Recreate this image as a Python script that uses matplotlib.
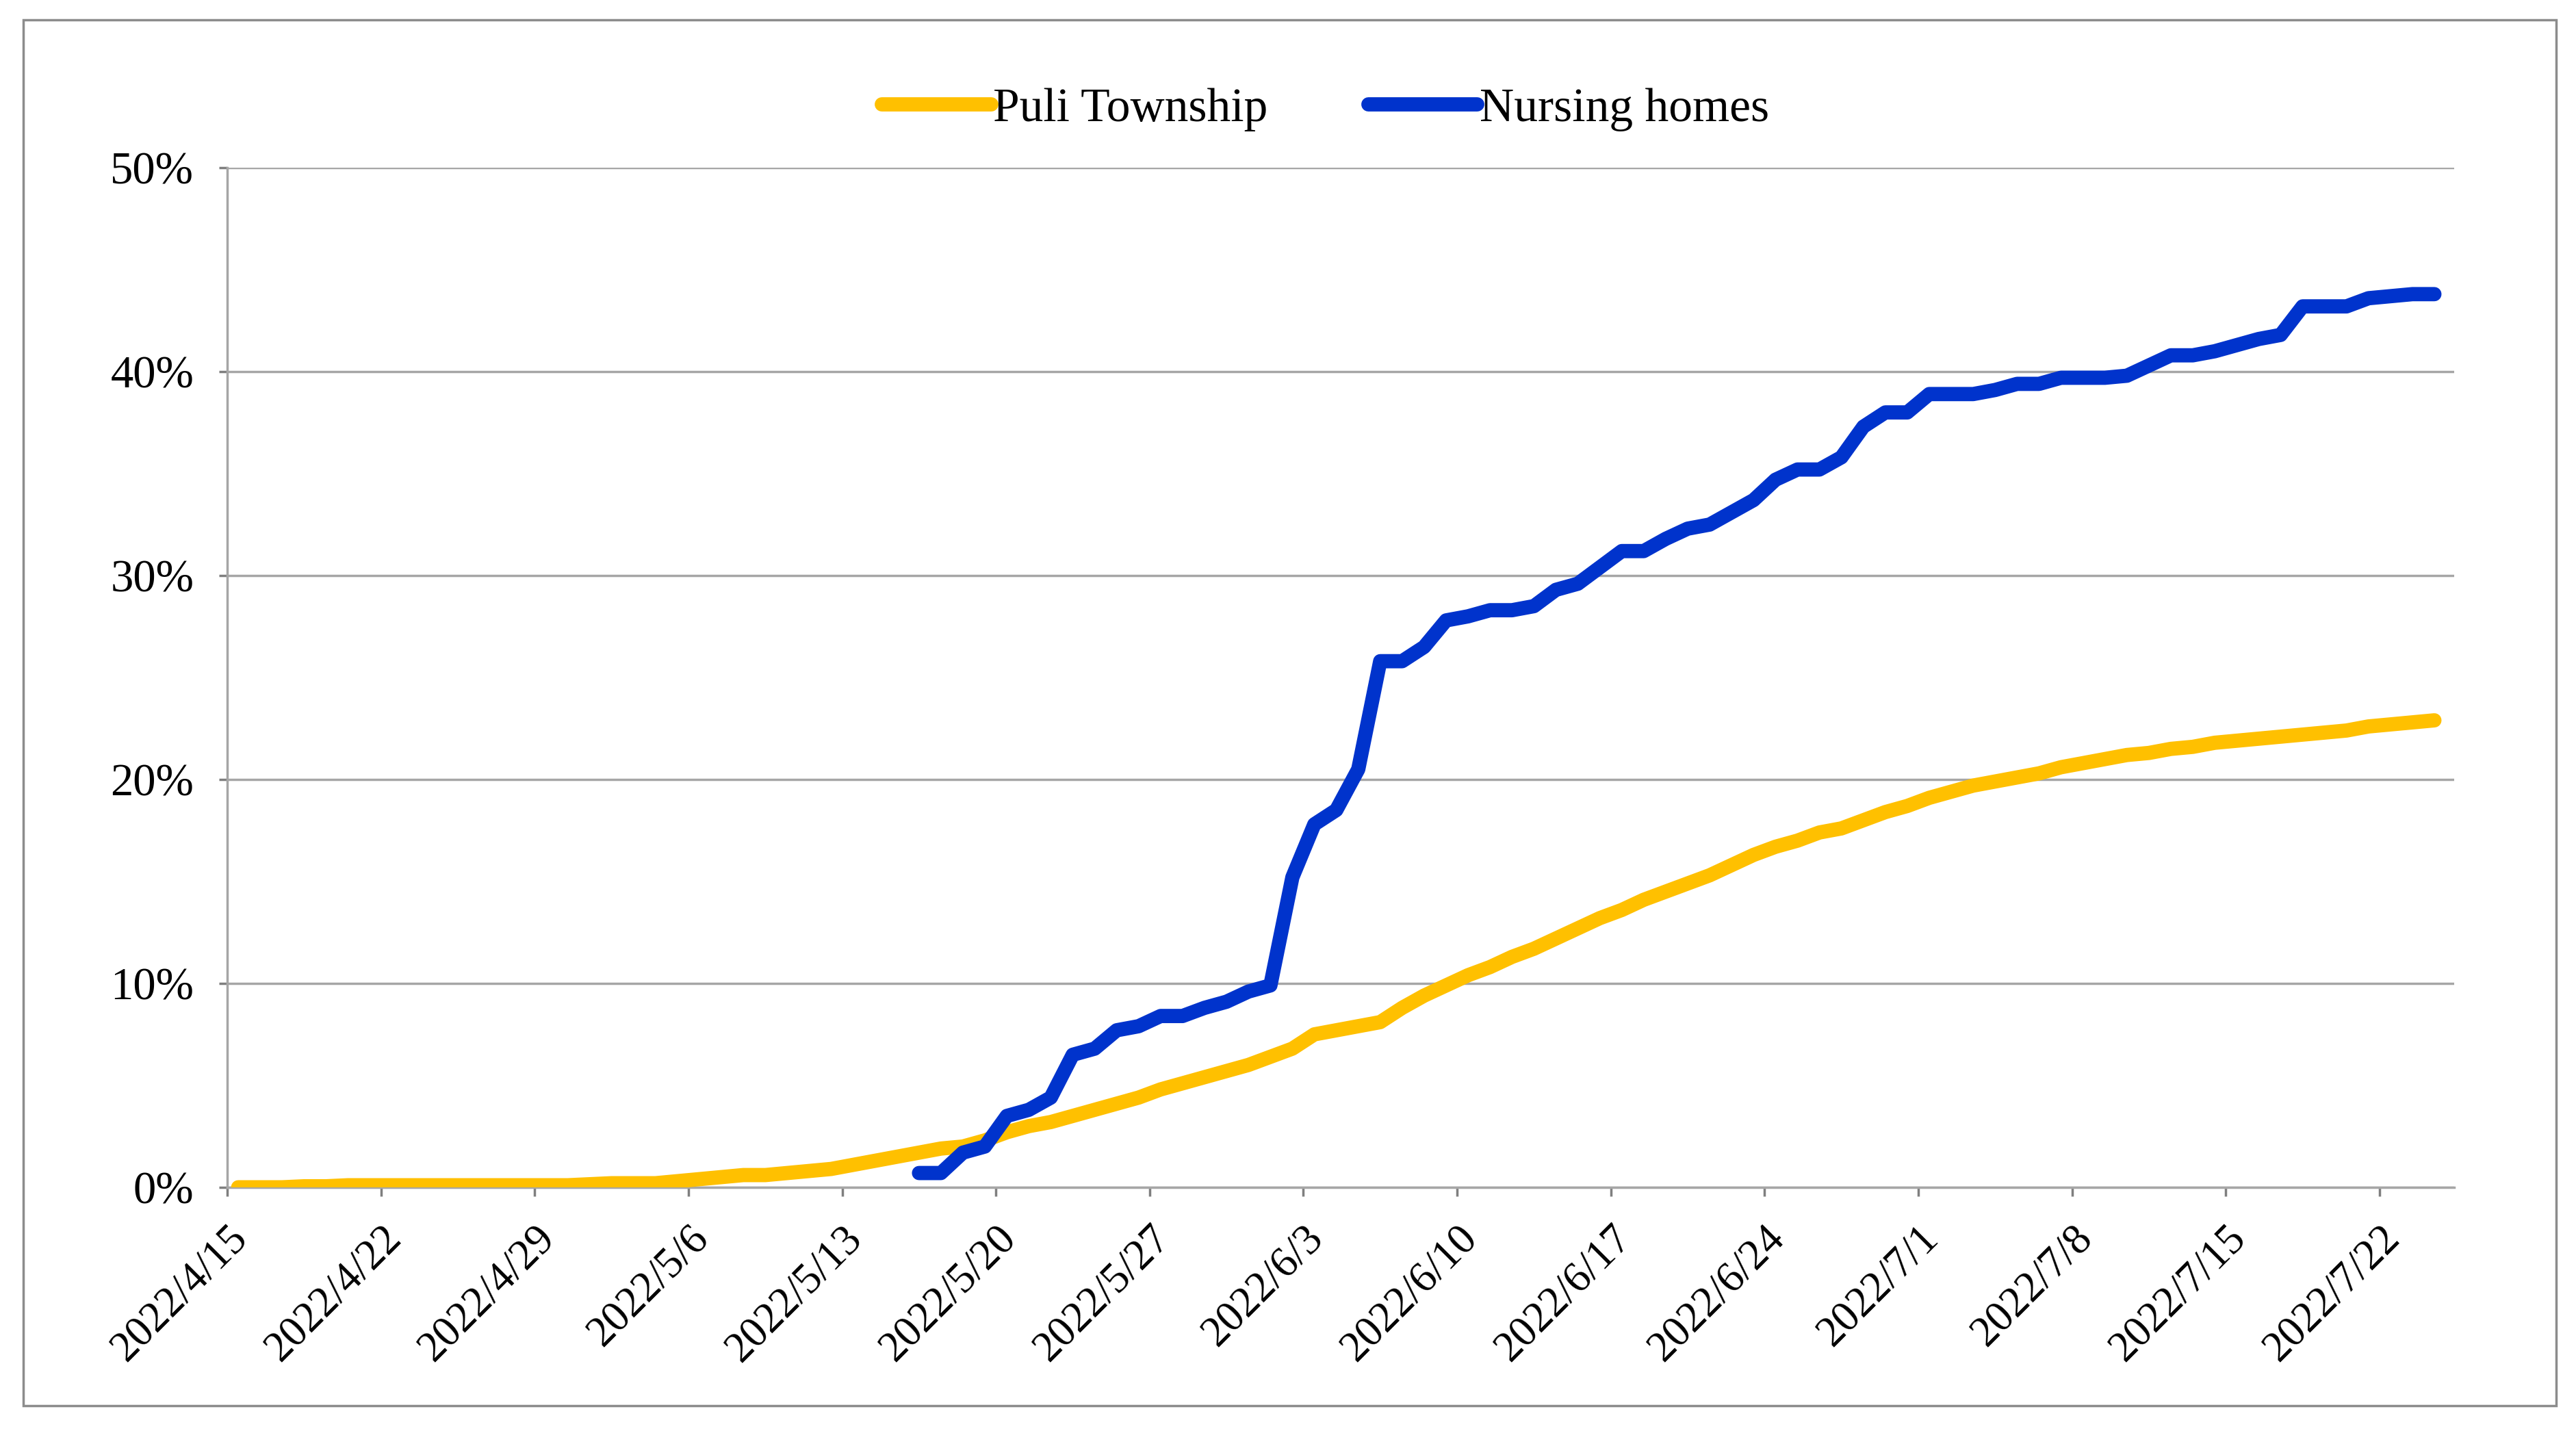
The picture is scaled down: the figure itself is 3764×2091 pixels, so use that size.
import matplotlib.pyplot as plt
from matplotlib.patches import Rectangle
import datetime as dt

plt.rcParams['font.family'] = ['Liberation Serif', 'DejaVu Serif']

# Puli Township: daily share, 2022/4/15 .. 2022/7/24 (%)
puli_start = dt.date(2022, 4, 15)
puli_pct = [
    0.0, 0.0, 0.0, 0.05, 0.05, 0.1, 0.1, 0.1, 0.1, 0.1,
    0.1, 0.1, 0.1, 0.1, 0.1, 0.1, 0.15, 0.2, 0.2, 0.2,
    0.3, 0.4, 0.5, 0.6, 0.6, 0.7, 0.8, 0.9, 1.1, 1.3,
    1.5, 1.7, 1.9, 2.0, 2.3, 2.7, 3.0, 3.2, 3.5, 3.8,
    4.1, 4.4, 4.8, 5.1, 5.4, 5.7, 6.0, 6.4, 6.8, 7.5,
    7.7, 7.9, 8.1, 8.8, 9.4, 9.9, 10.4, 10.8, 11.3, 11.7,
    12.2, 12.7, 13.2, 13.6, 14.1, 14.5, 14.9, 15.3, 15.8, 16.3,
    16.7, 17.0, 17.4, 17.6, 18.0, 18.4, 18.7, 19.1, 19.4, 19.7,
    19.9, 20.1, 20.3, 20.6, 20.8, 21.0, 21.2, 21.3, 21.5, 21.6,
    21.8, 21.9, 22.0, 22.1, 22.2, 22.3, 22.4, 22.6, 22.7, 22.8,
    22.9,
]

# Nursing homes: daily share, 2022/5/16 .. 2022/7/24 (%)
nursing_start = dt.date(2022, 5, 16)
nursing_pct = [
    0.7, 0.7, 1.7, 2.0, 3.5, 3.8, 4.4, 6.5, 6.8, 7.7,
    7.9, 8.4, 8.4, 8.8, 9.1, 9.6, 9.9, 15.2, 17.8, 18.5,
    20.5, 25.8, 25.8, 26.5, 27.8, 28.0, 28.3, 28.3, 28.5, 29.3,
    29.6, 30.4, 31.2, 31.2, 31.8, 32.3, 32.5, 33.1, 33.7, 34.7,
    35.2, 35.2, 35.8, 37.3, 38.0, 38.0, 38.9, 38.9, 38.9, 39.1,
    39.4, 39.4, 39.7, 39.7, 39.7, 39.8, 40.3, 40.8, 40.8, 41.0,
    41.3, 41.6, 41.8, 43.2, 43.2, 43.2, 43.6, 43.7, 43.8, 43.8,
]

y_ticks = [0, 10, 20, 30, 40, 50]


def day_positions(start, n):
    # points sit in the middle of each day's slot
    base = dt.datetime.combine(start, dt.time(12))
    return [base + dt.timedelta(days=i) for i in range(n)]


fig = plt.figure(figsize=(37.64, 20.91), dpi=100)
ax = fig.add_axes([0.0882, 0.1703, 0.8645, 0.7125])

ax.plot(day_positions(puli_start, len(puli_pct)), puli_pct,
        color='#FFC000', linewidth=15, solid_capstyle='round',
        solid_joinstyle='round', label='Puli Township', zorder=3)
ax.plot(day_positions(nursing_start, len(nursing_pct)), nursing_pct,
        color='#0033CC', linewidth=15, solid_capstyle='round',
        solid_joinstyle='round', label='Nursing homes', zorder=4)

x0 = dt.datetime.combine(puli_start, dt.time(0))
ax.set_xlim(x0, x0 + dt.timedelta(days=101.4))
ax.set_ylim(0, 50)

tick_dates = [x0 + dt.timedelta(days=7 * k) for k in range(15)]
ax.set_xticks(tick_dates)
ax.set_xticklabels([f"{d.year}/{d.month}/{d.day}" for d in tick_dates],
                   rotation=45, ha='right', rotation_mode='anchor')
ax.set_yticks(y_ticks)
ax.set_yticklabels([f"{v}%" for v in y_ticks])

ax.tick_params(axis='both', colors='#7f7f7f', labelcolor='black',
               width=2.5, length=9)
ax.tick_params(axis='x', labelsize=45, pad=24)
ax.tick_params(axis='y', labelsize=48, pad=26)

ax.grid(axis='y', color='#a6a6a6', linewidth=2.5, zorder=1)
for side in ['top', 'right']:
    ax.spines[side].set_visible(False)
ax.spines['left'].set_color('#a6a6a6')
ax.spines['left'].set_linewidth(2.5)
ax.spines['bottom'].set_color('#a6a6a6')
ax.spines['bottom'].set_linewidth(2.5)

fig.legend(loc='center', bbox_to_anchor=(0.5145, 1 - 160 / 2091), ncol=2,
           frameon=False, fontsize=50, handlelength=2.3, handletextpad=0.05,
           columnspacing=2.1)

fig.patches.append(Rectangle((34 / 3764, 1 - 2054 / 2091),
                             (3735 - 34) / 3764, (2054 - 29) / 2091,
                             transform=fig.transFigure, fill=False,
                             edgecolor='#8c8c8c', linewidth=2.5))

fig.savefig('out.png', dpi=100)
